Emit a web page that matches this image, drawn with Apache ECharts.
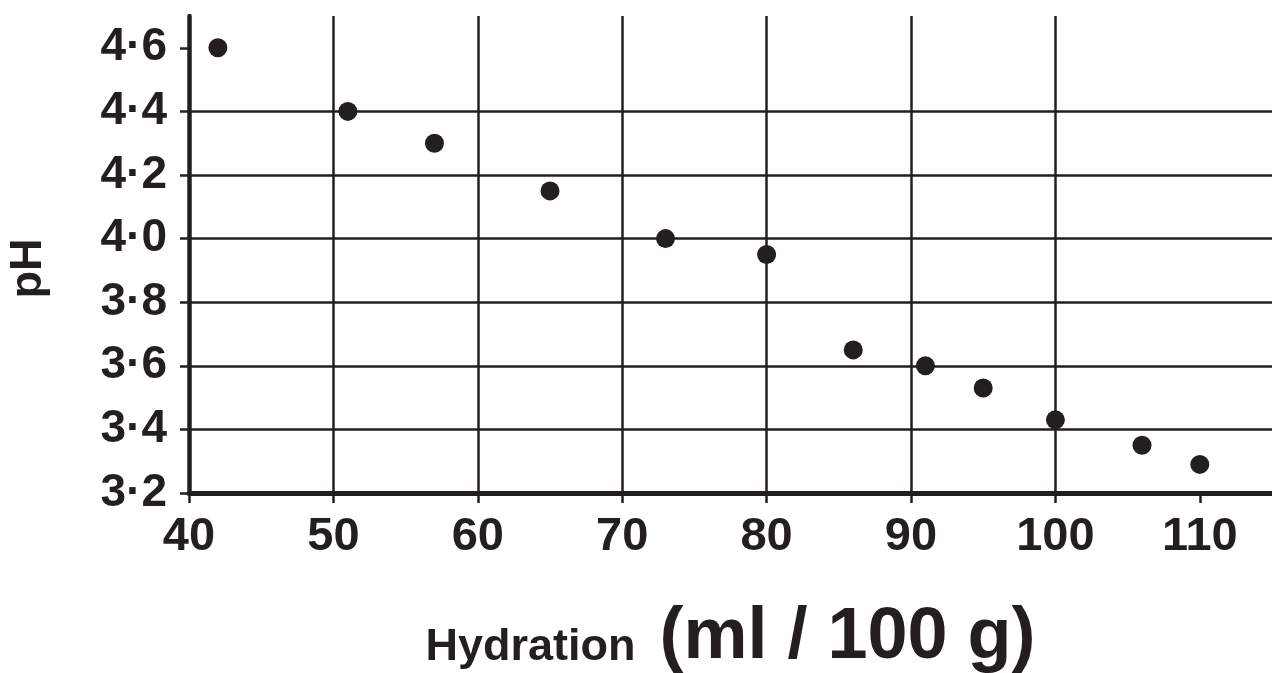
<!DOCTYPE html>
<html>
<head>
<meta charset="utf-8">
<script src="https://cdn.jsdelivr.net/npm/echarts@6/dist/echarts.min.js"></script>
<style>
  html, body { margin: 0; padding: 0; background: #fff; }
  #chart_ph { width: 1272px; height: 673px; }
</style>
</head>
<body>
<div id="chart_ph"></div>
<script>
// hydration (ml/100 g) vs pH
const hydration = [42, 51, 57, 65, 73, 80, 86, 91, 95, 100, 106, 110]
const phValues = [4.6, 4.4, 4.3, 4.15, 4.0, 3.95, 3.65, 3.6, 3.53, 3.43, 3.35, 3.29]
const xTicks = [40, 50, 60, 70, 80, 90, 100, 110]
const yTicks = [3.2, 3.4, 3.6, 3.8, 4.0, 4.2, 4.4, 4.6]

const ink = '#231f20'
const font = '"Liberation Sans", Arial, Helvetica, sans-serif'

let chartPh = echarts.init(document.getElementById('chart_ph'))
chartPh.setOption({
  animation: false,
  grid: {
    left: 189,
    right: 0,
    top: 16,
    bottom: 180,
    outerBoundsMode: 'none'
  },
  xAxis: {
    type: 'value',
    min: 40,
    max: 115,
    interval: 10,
    axisLine: { onZero: false, lineStyle: { color: ink, width: 5 } },
    axisTick: { length: 10, customValues: xTicks, lineStyle: { color: ink, width: 2.5 } },
    axisLabel: {
      customValues: xTicks,
      color: ink,
      fontFamily: font,
      fontWeight: 'bold',
      fontSize: 47,
      margin: 21
    },
    splitLine: { show: true, showMaxLine: false, lineStyle: { color: ink, width: 2.5 } },
    name: '{a|Hydration}{s| }{b|(ml / 100 g)}',
    nameLocation: 'middle',
    nameGap: 109,
    nameTextStyle: {
      color: ink,
      fontFamily: font,
      fontWeight: 'bold',
      rich: {
        a: { fontSize: 45, fontFamily: font, fontWeight: 'bold', color: ink, verticalAlign: 'bottom', padding: [0, 0, 4, 0] },
        s: { width: 24, fontSize: 45, verticalAlign: 'bottom' },
        b: { fontSize: 72, fontFamily: font, fontWeight: 'bold', color: ink, verticalAlign: 'bottom' }
      }
    }
  },
  yAxis: {
    type: 'value',
    min: 3.2,
    max: 4.7,
    interval: 0.2,
    axisLine: { show: true, lineStyle: { color: ink, width: 4.5 } },
    axisTick: { show: true, length: 9, customValues: yTicks, lineStyle: { color: ink, width: 2.5 } },
    axisLabel: {
      customValues: yTicks,
      color: ink,
      fontFamily: font,
      fontWeight: 'bold',
      fontSize: 46,
      margin: 22,
      formatter: v => v.toFixed(1).replace('.', '·')
    },
    splitLine: { show: true, showMaxLine: false, lineStyle: { color: ink, width: 2.5 } },
    name: 'pH',
    nameLocation: 'middle',
    nameRotate: 90,
    nameGap: 138,
    nameTextStyle: {
      color: ink,
      fontFamily: font,
      fontWeight: 'bold',
      fontSize: 45,
      padding: [0, 28, 0, 0]
    }
  },
  series: [
    {
      type: 'scatter',
      data: hydration.map((x, i) => [x, phValues[i]]),
      symbol: 'circle',
      symbolSize: 19,
      itemStyle: { color: ink, opacity: 1 },
      z: 5
    }
  ]
})

window.addEventListener('resize', () => {
  chartPh.resize()
})
</script>
</body>
</html>
